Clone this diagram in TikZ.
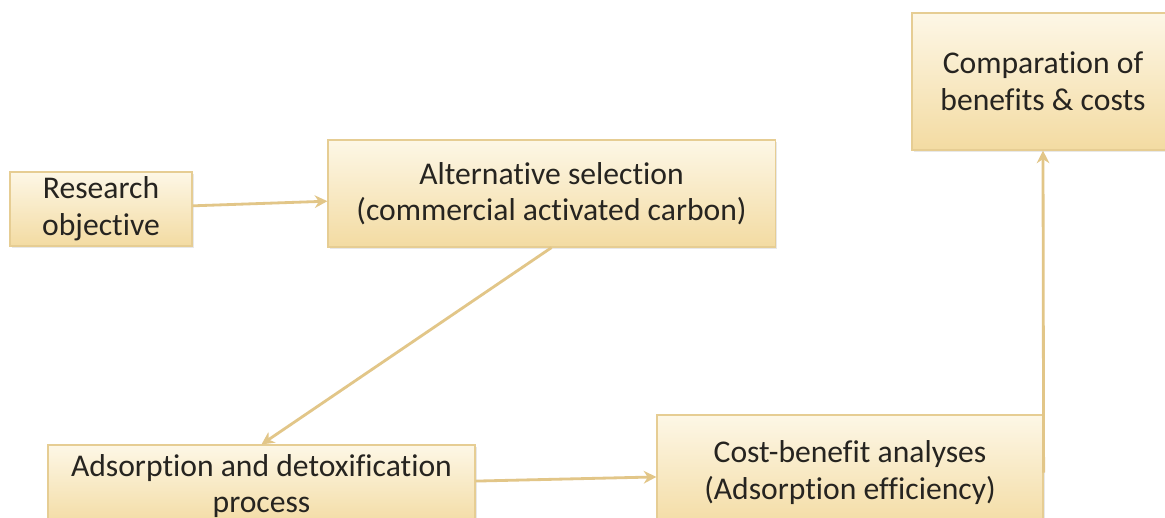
\documentclass[tikz,border=0pt]{standalone}
\usepackage{fontspec}
\setmainfont{Carlito}[Ligatures=NoCommon]
\usepackage{tikz}
\usetikzlibrary{shadows}
\usetikzlibrary{arrows.meta}

\definecolor{boxtop}{HTML}{FDF7E6}
\definecolor{boxbot}{HTML}{F3DBA2}
\definecolor{boxline}{HTML}{E6CD93}
\definecolor{flowcol}{HTML}{E2C688}
\definecolor{txtcol}{HTML}{262420}

\begin{document}
\begin{tikzpicture}[x=0.025cm,y=-0.025cm,
    box/.style={rectangle,draw=boxline,line width=0.8pt,top color=boxtop,bottom color=boxbot,
      drop shadow={opacity=0.18,shadow xshift=1.5pt,shadow yshift=-1.5pt},
      inner sep=0pt,align=center,text=txtcol,font=\fontsize{22.5}{26}\selectfont},
    flow/.style={draw=flowcol,line width=2pt,-{Stealth[length=9pt,width=9pt]}}]

    \clip (0,0) rectangle (1165,518);
    \fill[white] (0,0) rectangle (1165,518);

    \node[box,minimum width=4.55cm,minimum height=1.85cm]    (res)  at (101, 209)   {Research\\objective};
    \node[box,minimum width=11.175cm,minimum height=2.675cm] (alt)  at (551.5, 193.5) {Alternative selection\\(commercial activated carbon)};
    \node[box,minimum width=6.55cm,minimum height=3.425cm]   (comp) at (1043, 81.5)  {Comparation of\\benefits \& costs};
    \node[box,minimum width=10.675cm,minimum height=2.05cm]  (ads)  at (261.5, 486)  {Adsorption and detoxification\\process};
    \node[box,minimum width=9.65cm,minimum height=2.875cm]   (cost) at (850, 472.5)  {Cost-benefit analyses\\(Adsorption efficiency)};

    \draw (res) edge[flow] (alt);
    \draw (alt.south) edge[flow] (ads.north);
    \draw (ads) edge[flow] (cost);
    \draw (cost.east) edge[flow] (comp.south);
  \end{tikzpicture}
\end{document}
